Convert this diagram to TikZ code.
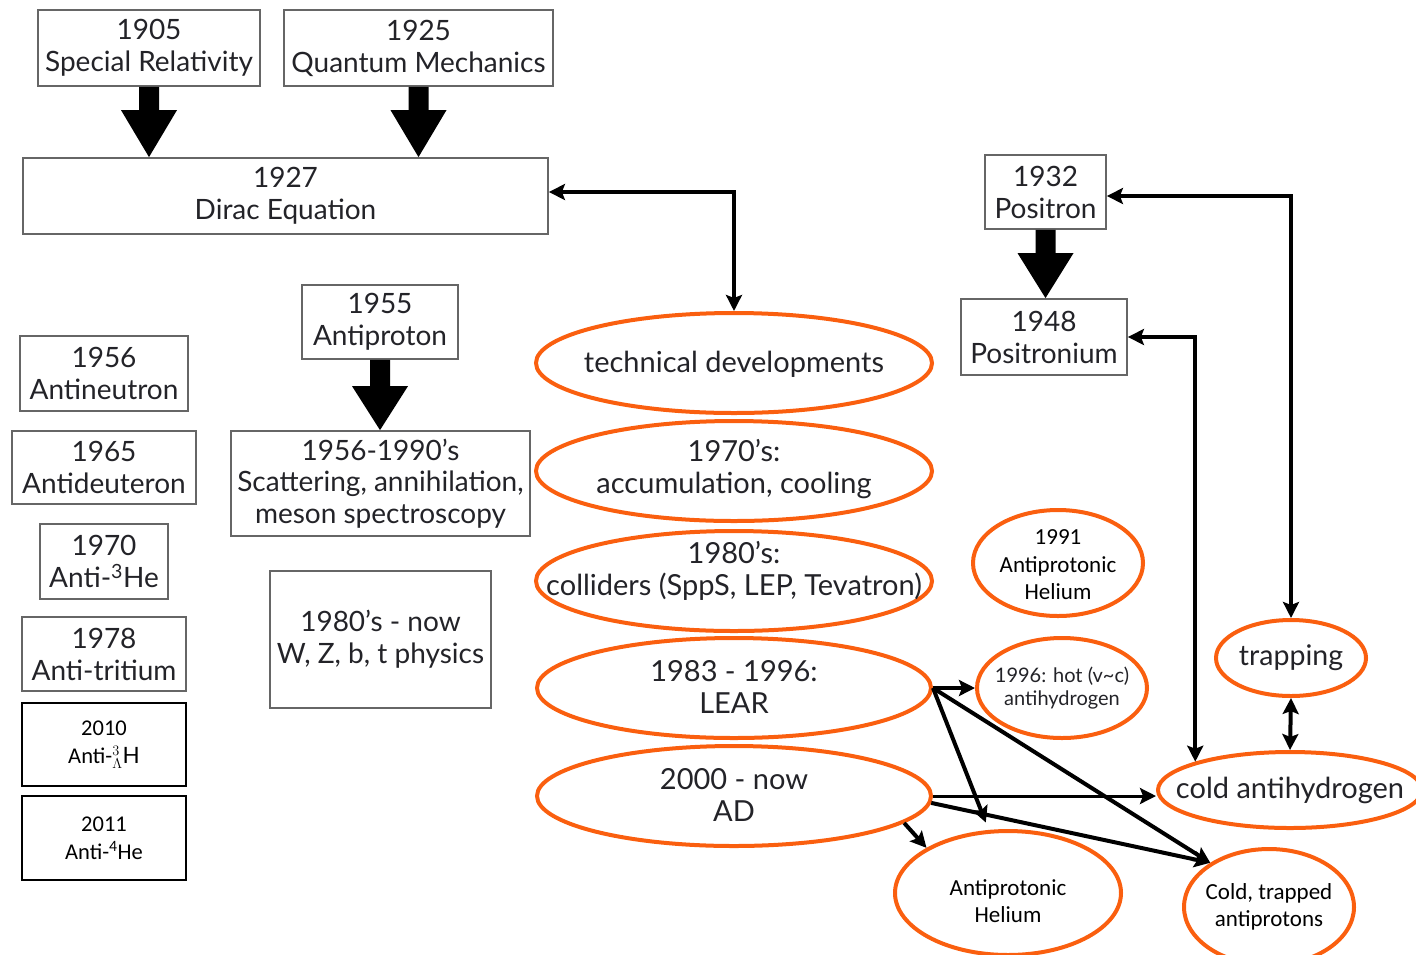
\documentclass[tikz,border=0pt]{standalone}
\usepackage{fontspec}
\setmainfont{Lato}
\newfontfamily\calib{Carlito}
\usetikzlibrary{shapes.geometric,arrows.meta,calc}
\definecolor{ora}{RGB}{250,95,15}
\definecolor{txt}{RGB}{35,35,40}
\newcommand\blk[3]{\fill let \p1=(#1.south), \p2=(#2.north) in
  (\x1-10pt,\y1) -- (\x1+10pt,\y1) -- (\x1+10pt,\y2+#3) -- (\x1+28pt,\y2+#3) --
  (\x1,\y2) -- (\x1-28pt,\y2+#3) -- (\x1-10pt,\y2+#3) -- cycle;}
\begin{document}
\begin{tikzpicture}[x=1pt,y=-1pt,
  gs/.style={font=\fontsize{28}{32}\selectfont, text=txt},
  ge/.style={font=\fontsize{29}{32.5}\selectfont, text=txt, align=center, inner sep=0pt},
  ce/.style={font=\calib\fontsize{23}{27.5}\selectfont, align=center, inner sep=0pt},
  box/.style={draw=black!60, line width=1.8pt, align=center, inner sep=0pt, gs},
  cbox/.style={draw=black, line width=2.6pt, align=center, inner sep=0pt, font=\calib\fontsize{22.5}{28}\selectfont},
  ell/.style={ellipse, draw=ora, line width=4pt, inner sep=0pt},
  arr/.style={line width=4pt, -{Stealth[length=16pt,width=16pt,inset=3pt]}},
  darr/.style={line width=4pt, {Stealth[length=16pt,width=16pt,inset=3pt]}-{Stealth[length=16pt,width=16pt,inset=3pt]}}
]
\useasboundingbox (0,0) rectangle (1416,954);
% boxes
\node[box, minimum width=222pt, minimum height=76pt] (sr) at (149,48) {1905\\Special Relativity};
\node[box, minimum width=269pt, minimum height=76pt] (qm) at (418.5,48) {1925\\Quantum Mechanics};
\node[box, minimum width=525pt, minimum height=76pt] (dirac) at (285.5,196) {1927\\Dirac Equation};
\node[box, minimum width=156pt, minimum height=74pt] (ap) at (380,322) {1955\\Antiproton};
\node[box, minimum width=299pt, minimum height=105pt, font=\fontsize{28}{31.5}\selectfont] (scat) at (380.5,483.5) {1956-1990's\\Scattering, annihilation,\\meson spectroscopy};
\node[box, minimum width=221pt, minimum height=137pt] (wz) at (380.5,639.5) {1980's - now\\W, Z, b, t physics};
\node[box, minimum width=168pt, minimum height=75pt] (an) at (104,373.5) {1956\\Antineutron};
\node[box, minimum width=184pt, minimum height=73pt] (ad) at (104,467.5) {1965\\Antideuteron};
\node[box, minimum width=128pt, minimum height=75pt] (he3) at (104,561.5) {1970\\Anti-\textsuperscript{3}He};
\node[box, minimum width=164pt, minimum height=74pt] (tri) at (104,654) {1978\\Anti-tritium};
\node[cbox, minimum width=164pt, minimum height=83pt] (l3h) at (104,744.5) {2010\\Anti-$^{3}_{\Lambda}\mathrm{H}$};
\node[cbox, minimum width=164pt, minimum height=84pt] (he4) at (104,838) {2011\\Anti-\textsuperscript{4}He};
\node[box, minimum width=121pt, minimum height=74pt] (pos) at (1045.5,192) {1932\\Positron};
\node[box, minimum width=166pt, minimum height=76pt] (psn) at (1044,337) {1948\\Positronium};
% ellipses
\node[ell, minimum width=396pt, minimum height=100pt] (td) at (734,363) {};
\node[ge] (tdt) at (734,364) {technical developments};
\node[ell, minimum width=396pt, minimum height=100pt] (acc) at (734,471) {};
\node[ge] (acct) at (734,469) {1970's:\\accumulation, cooling};
\node[ell, minimum width=396pt, minimum height=100pt] (col) at (734,581) {};
\node[ge] (colt) at (734,571) {1980's:\\colliders (SppS, LEP, Tevatron)};
\node[ell, minimum width=394pt, minimum height=100pt] (lear) at (734,688) {};
\node[ge] (leart) at (734,687) {1983 - 1996:\\LEAR};
\node[ell, minimum width=394pt, minimum height=100pt] (adn) at (734,796) {};
\node[ge] (adnt) at (734,795) {2000 - now\\AD};
\node[ell, minimum width=170pt, minimum height=106pt] (ah91) at (1058,563) {};
\node[ce] (ah91t) at (1058,565) {1991\\Antiprotonic\\Helium};
\node[ell, minimum width=170pt, minimum height=100pt] (hot) at (1062,688) {};
\node[ge, font=\fontsize{20}{23}\selectfont] (hott) at (hot.center) {1996: hot (v\textasciitilde c)\\antihydrogen};
\node[ell, minimum width=150pt, minimum height=76pt] (trap) at (1291,658) {};
\node[ge, font=\fontsize{28.5}{32}\selectfont] (trapt) at (trap.center) {trapping};
\node[ell, minimum width=264pt, minimum height=76pt] (cold) at (1290,790) {};
\node[ge] (coldt) at (cold.center) {cold antihydrogen};
\node[ell, minimum width=226pt, minimum height=124pt] (aph) at (1008,893) {};
\node[ce] (apht) at (1008,901) {Antiprotonic\\Helium};
\node[ell, minimum width=170pt, minimum height=116pt] (ctp) at (1269,907) {};
\node[ce] (ctpt) at (ctp.center) {Cold, trapped\\antiprotons};
% block arrows
\blk{sr}{dirac}{47pt}
\blk{qm}{dirac}{47pt}
\blk{ap}{scat}{44pt}
\blk{pos}{psn}{45pt}
% connectors
\draw[darr] ($(dirac.east)+(0,-4)$) -| (td.north);
\draw[darr] ($(pos.east)+(0,4)$) -| (trap.north);
\draw[darr] (psn.east) -| (cold.north west);
\draw[darr] (trap.south) -- (cold.north);
\draw[arr] (lear.east) -- (hot.west);
\draw[arr, shorten >=8pt] (lear.east) -- (aph.107);
\draw[arr] (lear.east) -- (ctp.143);
\draw[arr] (adn.-2) -- (ctp.143);
\draw[arr, line width=3pt] (adn.east) -- (adn.east -| cold.west);
\draw[arr] (adn.-9) -- (aph.151);
\end{tikzpicture}
\end{document}
